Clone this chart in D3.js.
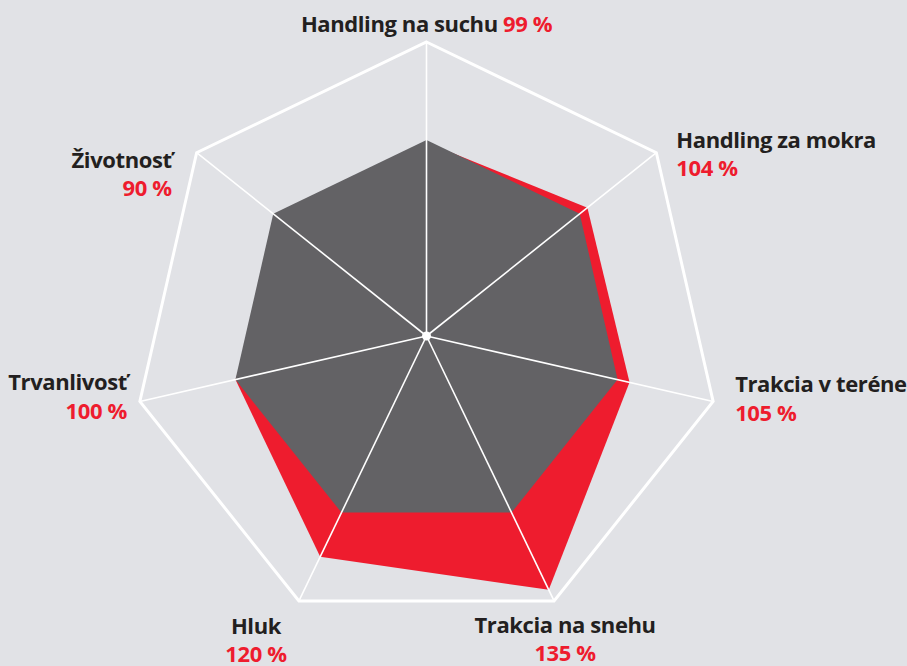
<!DOCTYPE html>
<html>
<head>
  <meta charset="utf-8">
  <title>Radar</title>
  <style>
    html, body { margin: 0; padding: 0; background: #e1e2e6; }
    svg { display: block; }
    text { font-family: "Open Sans", Lato, sans-serif; font-weight: 700; }
  </style>
</head>
<body>
  <svg width="907" height="666"></svg>
  <script src="https://d3js.org/d3.v7.min.js"></script>
  <script>
    // data
    var axes = ["Handling na suchu", "Handling za mokra", "Trakcia v teréne",
      "Trakcia na snehu", "Hluk", "Trvanlivosť", "Životnosť"];
    var values = [99, 104, 105, 135, 120, 100, 90];
    var reference = [100, 100, 100, 100, 100, 100, 100];
    var scaleMin = 20, scaleMax = 140;

    // label nudges (layout only)
    var labelDx = [0, 20, 22, 11, -43, -13, -25];
    var labelDy = [-10, -5, -9, 32, 33, -11, 15];

    var cx = 426.5, cy = 336, R = 294;
    var svg = d3.select("svg");
    var g = svg.append("g").attr("transform", "translate(" + cx + "," + cy + ")");

    var r = d3.scaleLinear().domain([scaleMin, scaleMax]).range([0, R]);
    var ang = d3.scaleLinear().domain([0, axes.length]).range([0, 2 * Math.PI]);

    var radial = d3.lineRadial()
      .angle(function (d, i) { return ang(i); })
      .radius(function (d) { return r(d); })
      .curve(d3.curveLinearClosed);

    function pt(i, v) {
      var a = ang(i), rr = r(v);
      return [rr * Math.sin(a), -rr * Math.cos(a)];
    }

    // outer frame
    g.append("path")
      .attr("d", radial(axes.map(function () { return scaleMax; })))
      .attr("fill", "none")
      .attr("stroke", "#fff")
      .attr("stroke-width", 3)
      .attr("stroke-linejoin", "miter");

    // value polygon (red), then reference polygon (gray) on top
    g.append("path")
      .attr("d", radial(values))
      .attr("fill", "#ee1c2e");
    g.append("path")
      .attr("d", radial(reference))
      .attr("fill", "#636265");

    // spokes
    g.selectAll("line.spoke")
      .data(axes)
      .enter()
      .append("line")
      .attr("class", "spoke")
      .attr("x1", 0).attr("y1", 0)
      .attr("x2", function (d, i) { return pt(i, scaleMax)[0]; })
      .attr("y2", function (d, i) { return pt(i, scaleMax)[1]; })
      .attr("stroke", "#fff")
      .attr("stroke-width", 1.6);

    g.append("circle").attr("r", 4.5).attr("fill", "#fff");

    // labels
    var labels = g.selectAll("g.lab")
      .data(axes)
      .enter()
      .append("g")
      .attr("class", "lab")
      .attr("transform", function (d, i) {
        var p = pt(i, scaleMax);
        return "translate(" + (p[0] + labelDx[i]) + "," + (p[1] + labelDy[i]) + ")";
      });

    labels.each(function (d, i) {
      var sel = d3.select(this);
      var s = Math.sin(ang(i)), c = Math.cos(ang(i));
      var anchor = (c > 0.9 || c < -0.8) ? "middle" : (s > 0 ? "start" : "end");
      var t = sel.append("text")
        .attr("text-anchor", anchor)
        .attr("font-size", 22)
        .attr("letter-spacing", -0.4);
      if (i === 0) {
        t.append("tspan").attr("fill", "#231f20").text(d + " ");
        t.append("tspan").attr("fill", "#ee1c2e").text(values[i] + " %");
      } else {
        t.append("tspan").attr("fill", "#231f20").attr("x", 0).attr("y", 0).text(d);
        t.append("tspan").attr("fill", "#ee1c2e").attr("x", 0).attr("y", 28.5).text(values[i] + " %");
      }
    });
  </script>
</body>
</html>
